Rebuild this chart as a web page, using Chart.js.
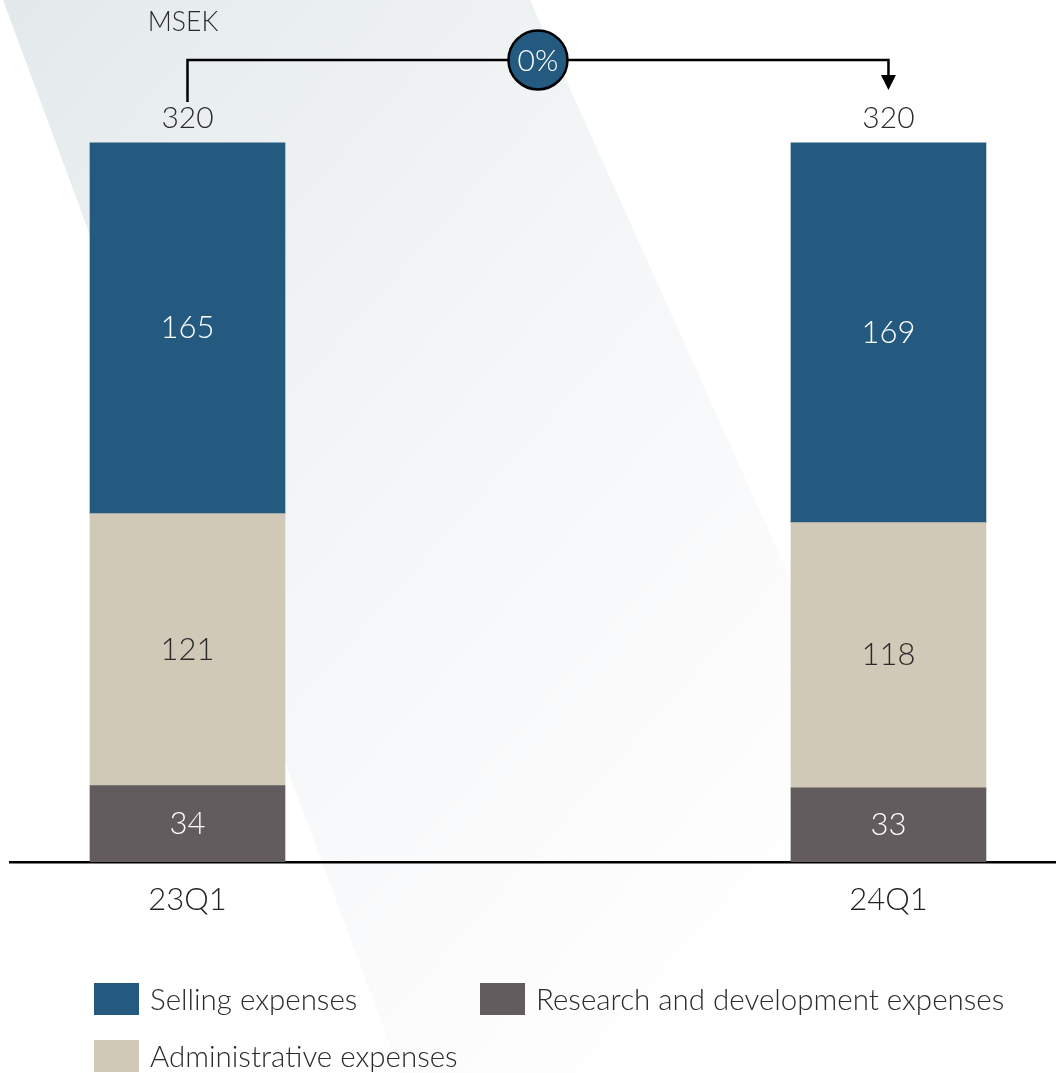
<!DOCTYPE html>
<html>
<head>
<meta charset="utf-8">
<script src="https://cdn.jsdelivr.net/npm/chart.js@4.4.1/dist/chart.umd.min.js"></script>
<style>
  html, body { margin: 0; padding: 0; background: #fff; }
  #wrap { width: 1056px; height: 1073px; position: relative; }
</style>
</head>
<body>
<div id="wrap"><canvas id="chartGastos"></canvas></div>
<script>
// Gastos operativos por trimestre (MSEK)
var periods = ['23Q1', '24Q1'];
var selling = [165, 169];
var admin = [121, 118];
var research = [34, 33];
var seriesNames = ['Selling expenses', 'Administrative expenses', 'Research and development expenses'];
var unitLabel = 'MSEK';

var colors = { selling: '#245a80', admin: '#d1c9b8', research: '#625c5e' };
var FONT = 'Lato, "Open Sans", sans-serif';

function pts(arr) {
    return arr.map(function(v, i) { return { x: i, y: v }; });
}

var totals = periods.map(function(p, i) { return selling[i] + admin[i] + research[i]; });

// fondo con banda diagonal
var fondo = {
    id: 'fondo',
    beforeDraw: function(chart) {
        var c = chart.ctx, w = chart.width, h = chart.height;
        c.save();
        c.fillStyle = '#fff';
        c.fillRect(0, 0, w, h);
        var g = c.createLinearGradient(0, 0, 900, 800);
        g.addColorStop(0, '#e3e9eb');
        g.addColorStop(0.4, '#f1f4f5');
        g.addColorStop(0.85, '#fcfcfd');
        g.addColorStop(1, '#ffffff');
        c.fillStyle = g;
        c.beginPath();
        c.moveTo(3, 0);
        c.lineTo(530, 0);
        c.lineTo(530 + 0.45 * h, h);
        c.lineTo(3 + 0.37 * h, h);
        c.closePath();
        c.fill();
        c.restore();
    }
};

// valores dentro de cada segmento, totales, flecha y leyenda
var etiquetas = {
    id: 'etiquetas',
    afterDatasetsDraw: function(chart) {
        var c = chart.ctx;
        c.save();
        c.textAlign = 'center';
        c.textBaseline = 'middle';
        c.font = '300 31px ' + FONT;
        chart.data.datasets.forEach(function(ds, di) {
            var meta = chart.getDatasetMeta(di);
            meta.data.forEach(function(el, i) {
                c.fillStyle = ds.labelColor;
                c.fillText(ds.data[i].y, el.x, (el.y + el.base) / 2);
            });
        });
        c.restore();
    },
    afterDraw: function(chart) {
        var c = chart.ctx;
        var top = chart.getDatasetMeta(chart.data.datasets.length - 1).data;
        c.save();
        c.textAlign = 'center';
        c.textBaseline = 'middle';
        c.fillStyle = '#2b2b2b';
        c.font = '300 30px ' + FONT;
        top.forEach(function(el, i) {
            c.fillText(totals[i], el.x, el.y - 25);
        });

        c.font = '300 26.5px ' + FONT;
        c.fillText(unitLabel, 183, 22);

        // conector entre totales
        var x0 = top[0].x, x1 = top[1].x;
        var yLine = top[0].y - 83;
        c.strokeStyle = '#000';
        c.lineWidth = 2.5;
        c.beginPath();
        c.moveTo(x0, top[0].y - 41);
        c.lineTo(x0, yLine);
        c.lineTo(x1, yLine);
        c.lineTo(x1, top[1].y - 66);
        c.stroke();
        c.fillStyle = '#000';
        c.beginPath();
        c.moveTo(x1 - 7.5, top[1].y - 68);
        c.lineTo(x1 + 7.5, top[1].y - 68);
        c.lineTo(x1, top[1].y - 53);
        c.closePath();
        c.fill();

        var cx = (x0 + x1) / 2;
        c.beginPath();
        c.arc(cx, yLine, 29.5, 0, Math.PI * 2);
        c.fillStyle = colors.selling;
        c.fill();
        c.lineWidth = 2.5;
        c.stroke();
        var pct = Math.round((totals[1] - totals[0]) / totals[0] * 100);
        c.fillStyle = '#fff';
        c.font = '300 30px ' + FONT;
        c.fillText(pct + '%', cx, yLine + 1);

        // leyenda
        var items = [
            { name: seriesNames[0], color: colors.selling, x: 94, y: 983 },
            { name: seriesNames[2], color: colors.research, x: 480, y: 983 },
            { name: seriesNames[1], color: colors.admin, x: 94, y: 1040 }
        ];
        c.textAlign = 'left';
        c.font = '300 29.5px ' + FONT;
        items.forEach(function(it) {
            c.fillStyle = it.color;
            c.fillRect(it.x, it.y, 45, 32);
            c.fillStyle = '#2b2b2b';
            c.fillText(it.name, it.x + 56, it.y + 17);
        });
        c.restore();
    }
};

const ctx = document.getElementById('chartGastos').getContext('2d');
new Chart(ctx, {
    type: 'bar',
    data: {
        datasets: [
            { label: seriesNames[2], data: pts(research), backgroundColor: colors.research, labelColor: '#ffffff' },
            { label: seriesNames[1], data: pts(admin), backgroundColor: colors.admin, labelColor: '#2b2b2b' },
            { label: seriesNames[0], data: pts(selling), backgroundColor: colors.selling, labelColor: '#ffffff' }
        ]
    },
    options: {
        responsive: true,
        maintainAspectRatio: false,
        animation: false,
        barThickness: 195,
        layout: { padding: { top: 53, left: 10, right: 0, bottom: 141 } },
        plugins: {
            legend: { display: false },
            title: { display: false },
            tooltip: { enabled: false }
        },
        scales: {
            x: {
                type: 'linear',
                stacked: true,
                offset: false,
                min: -0.2532,
                max: 1.239,
                grid: { display: false },
                border: { color: '#000', width: 2.5 },
                afterBuildTicks: function(axis) {
                    axis.ticks = periods.map(function(p, i) { return { value: i }; });
                },
                afterFit: function(axis) { axis.height = 70; },
                ticks: {
                    autoSkip: false,
                    maxRotation: 0,
                    padding: 11,
                    color: '#222',
                    font: { family: FONT, size: 31, weight: 300 },
                    callback: function(v) { return periods[v]; }
                }
            },
            y: {
                display: false,
                stacked: true,
                min: 0,
                max: 360
            }
        }
    },
    plugins: [fondo, etiquetas]
});
</script>
</body>
</html>
